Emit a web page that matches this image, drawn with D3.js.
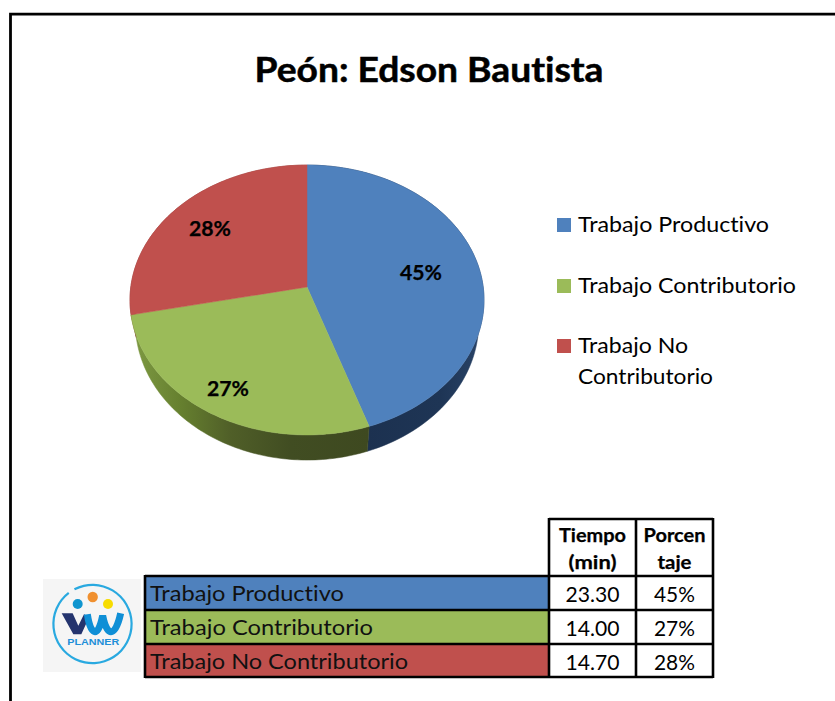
<!DOCTYPE html>
<html><head><meta charset="utf-8">
<script src="https://cdn.jsdelivr.net/npm/d3@7/dist/d3.min.js"></script>
<style>html,body{margin:0;padding:0;background:#fff}svg{display:block}text{font-family:Lato,"Open Sans",sans-serif;fill:#000;font-variant-ligatures:none;font-feature-settings:"liga" 0}</style>
</head><body><svg id="c" width="835" height="701"></svg>
<script>
const chartTitle = "Peón: Edson Bautista";
const categories = ["Trabajo Productivo","Trabajo Contributorio","Trabajo No Contributorio"];
const minutes = [23.30,14.00,14.70];
const percents = ["45%","27%","28%"];
const minuteLabels = ["23.30","14.00","14.70"];
const headers = [["Tiempo","(min)"],["Porcen","taje"]];
const colors = ["#4f81bd","#9bbb59","#c0504d"];

const svg = d3.select("#c");
const defs = svg.append("defs");
function grad(id, stops){
  const g = defs.append("linearGradient").attr("id",id).attr("gradientUnits","userSpaceOnUse")
    .attr("x1",130).attr("x2",484).attr("y1",0).attr("y2",0);
  stops.forEach(s=>g.append("stop").attr("offset",(s[0]-130)/354).attr("stop-color",s[1]));
}
grad("sideB",[[367,"#1c3150"],[440,"#1e3555"],[484,"#2a4468"]]);
grad("sideG",[[130,"#7f9b44"],[180,"#66802f"],[230,"#505f28"],[290,"#414d22"],[370,"#3e4920"]]);
grad("sideR",[[130,"#8a3a38"],[140,"#8a3a38"]]);

// frame
svg.append("path").attr("d","M10.5,701V14.2H835").attr("fill","none").attr("stroke","#000").attr("stroke-width",2.8);

function label(x,y,t,size,bold,anchor,w){
  const e = svg.append("text").attr("x",x).attr("y",y).text(t).attr("font-size",size)
    .attr("font-weight",bold?700:400).attr("text-anchor",anchor||"start");
  if(bold) e.attr("stroke","#000").attr("stroke-width",size>30?0.5:0.25);
  if(w) e.attr("textLength",w).attr("lengthAdjust","spacingAndGlyphs");
  return e;
}
label(429,82,chartTitle,33.5,true,"middle",349);

// pie in perspective
const k=-0.0963;
const project = (t,cy,ax,ay)=>{
  const u=Math.sin(t), v=-Math.cos(t), d=1+k*v;
  return [307+ax*u/d, cy+ay*v/d];
};
const topP = t=>project(t,287,176.2,133.7);
const botP = t=>project(t,309,171,136.5);
const arcs = d3.pie().sort(null).value(d=>d)(minutes);
const line = d3.line();
const sample = (a,b)=>d3.range(0,1.0001,1/90).map(f=>a+(b-a)*f);
const sideFill=["url(#sideB)","url(#sideG)","url(#sideR)"];
arcs.forEach((a,i)=>{
  const ts=sample(a.startAngle,a.endAngle);
  const pts=ts.map(topP).concat(ts.slice().reverse().map(botP));
  svg.append("path").attr("d",line(pts)+"Z").attr("fill",sideFill[i]).attr("stroke",sideFill[i]).attr("stroke-width",.5);
});
arcs.forEach((a,i)=>{
  const pts=[[307,287]].concat(sample(a.startAngle,a.endAngle).map(topP));
  svg.append("path").attr("d",line(pts)+"Z").attr("fill",colors[i]).attr("stroke",colors[i]).attr("stroke-width",.5);
});
const pieLabelPos=[[421,280],[228,396],[210,236]];
percents.forEach((p,i)=>label(pieLabelPos[i][0],pieLabelPos[i][1],p,20.5,true,"middle",42));

// legend
const legY=[225,286,346];
const legendLines=[[categories[0]],[categories[1]],["Trabajo No","Contributorio"]];
const legendW=[[191],[218],[110,135]];
legendLines.forEach((ls,i)=>{
  svg.append("rect").attr("x",557).attr("y",legY[i]-7).attr("width",14).attr("height",14).attr("fill",colors[i]);
  ls.forEach((t,j)=>label(578,legY[i]+7+j*31,t,21.5,false,"start",legendW[i][j]));
});

// table
const rowY=[519,576,610,644,677];
const colX=[145,549,636,713];
const nameW=[194,223,258];
categories.forEach((c,i)=>{
  svg.append("rect").attr("x",colX[0]).attr("y",rowY[i+1]).attr("width",colX[1]-colX[0]).attr("height",rowY[i+2]-rowY[i+1]).attr("fill",colors[i]);
  label(150,rowY[i+1]+25,c,21.5,false,"start",nameW[i]).style("fill","#111");
  label((colX[1]+colX[2])/2,rowY[i+1]+26,minuteLabels[i],21.5,false,"middle",54);
  label((colX[2]+colX[3])/2,rowY[i+1]+26,percents[i],21.5,false,"middle",41);
});
headers.forEach((h,i)=>h.forEach((t,j)=>{
  const w=[[67,48],[62,34]][i][j];
  label((colX[i+1]+colX[i+2])/2,542+j*27,t,18.5,true,"middle",w);
}));
const tbl=svg.append("g").attr("stroke","#000").attr("stroke-width",2.6);
[colX[1],colX[2],colX[3]].forEach(x=>tbl.append("line").attr("x1",x).attr("x2",x).attr("y1",rowY[0]-1).attr("y2",rowY[4]+1));
tbl.append("line").attr("x1",colX[0]).attr("x2",colX[0]).attr("y1",rowY[1]-1).attr("y2",rowY[4]+1);
tbl.append("line").attr("x1",colX[1]).attr("x2",colX[3]).attr("y1",rowY[0]).attr("y2",rowY[0]);
rowY.slice(1).forEach(y=>tbl.append("line").attr("x1",colX[0]).attr("x2",colX[3]).attr("y1",y).attr("y2",y));

// logo
const logo=svg.append("g");
logo.append("rect").attr("x",43).attr("y",579).attr("width",98).attr("height",93).attr("fill","#f5f5f5");
logo.append("path").attr("transform","translate(92.5,624)")
  .attr("d",d3.arc()({innerRadius:38,outerRadius:40.2,startAngle:-0.48,endAngle:5.63})).attr("fill","#29a9e0");
logo.append("circle").attr("cx",77.7).attr("cy",604).attr("r",5).attr("fill","#0f95cf");
logo.append("circle").attr("cx",92.7).attr("cy",597).attr("r",5.2).attr("fill","#f0902f");
logo.append("circle").attr("cx",108).attr("cy",604).attr("r",5).attr("fill","#f7dc00");
const mark=logo.append("g").attr("transform","translate(40,575) scale(0.3333)");
mark.append("path").attr("d","M65,115H98L115,152L132,118L148,125L124,178H100Z").attr("fill","#24346e");
mark.append("path").attr("d","M142,118Q150,170 165,170Q178,170 188,122Q198,170 213,170Q230,170 242,115")
  .attr("fill","none").attr("stroke","#0f8fd6").attr("stroke-width",21);
logo.append("text").attr("x",93.3).attr("y",645).attr("text-anchor","middle").attr("textLength",52).attr("lengthAdjust","spacingAndGlyphs")
  .attr("font-size",9.3).attr("font-weight",900).style("fill","#1f8fd8").style("font-family","Liberation Sans").text("PLANNER");
</script></body></html>
